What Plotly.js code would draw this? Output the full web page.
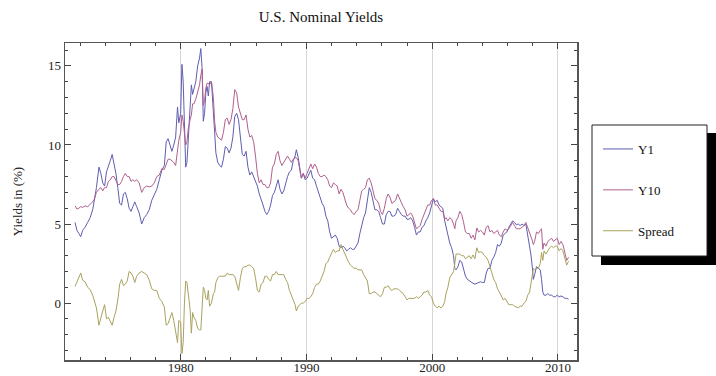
<!DOCTYPE html>
<html>
<head>
<meta charset="utf-8">
<script src="https://cdn.plot.ly/plotly-3.0.1.min.js"></script>
<style>html,body{margin:0;padding:0;background:#fff;}#chart{width:716px;height:376px;}</style>
</head>
<body>
<div id="chart"></div>
<script>
// decimal years
const years = [1971.6,1971.75,1971.9,1972.05,1972.2,1972.4,1972.6,1972.8,1973.0,1973.15,1973.3,1973.5,1973.65,1973.8,1973.95,1974.1,1974.25,1974.4,1974.55,1974.7,1974.85,1975.0,1975.15,1975.3,1975.45,1975.6,1975.75,1975.9,1976.05,1976.2,1976.35,1976.5,1976.7,1976.9,1977.1,1977.3,1977.5,1977.7,1977.9,1978.1,1978.3,1978.5,1978.7,1978.85,1979.0,1979.15,1979.3,1979.45,1979.6,1979.75,1979.85,1980.0,1980.1,1980.2,1980.3,1980.4,1980.5,1980.6,1980.75,1980.85,1980.95,1981.05,1981.2,1981.35,1981.5,1981.6,1981.7,1981.8,1981.9,1982.0,1982.1,1982.2,1982.3,1982.45,1982.6,1982.7,1982.8,1982.95,1983.1,1983.25,1983.4,1983.55,1983.7,1983.85,1984.0,1984.15,1984.3,1984.45,1984.6,1984.75,1984.9,1985.05,1985.2,1985.35,1985.5,1985.65,1985.8,1985.95,1986.1,1986.25,1986.4,1986.55,1986.7,1986.85,1987.0,1987.15,1987.3,1987.45,1987.6,1987.75,1987.9,1988.05,1988.2,1988.35,1988.5,1988.65,1988.8,1988.95,1989.1,1989.2,1989.35,1989.5,1989.6,1989.75,1989.9,1990.05,1990.2,1990.35,1990.5,1990.65,1990.8,1990.95,1991.1,1991.25,1991.4,1991.55,1991.7,1991.85,1992.0,1992.15,1992.3,1992.45,1992.6,1992.75,1992.9,1993.05,1993.2,1993.35,1993.5,1993.65,1993.8,1993.95,1994.1,1994.25,1994.4,1994.55,1994.7,1994.85,1995.0,1995.15,1995.3,1995.45,1995.6,1995.75,1995.9,1996.05,1996.2,1996.35,1996.5,1996.65,1996.8,1996.95,1997.1,1997.25,1997.4,1997.55,1997.7,1997.85,1998.0,1998.15,1998.3,1998.45,1998.6,1998.75,1998.9,1999.05,1999.2,1999.35,1999.5,1999.65,1999.8,1999.95,2000.1,2000.25,2000.4,2000.55,2000.7,2000.85,2001.0,2001.1,2001.25,2001.4,2001.55,2001.7,2001.8,2001.9,2002.05,2002.2,2002.35,2002.5,2002.65,2002.8,2002.95,2003.1,2003.25,2003.4,2003.55,2003.7,2003.85,2004.0,2004.15,2004.3,2004.45,2004.6,2004.75,2004.9,2005.05,2005.2,2005.35,2005.5,2005.65,2005.8,2005.95,2006.1,2006.25,2006.4,2006.55,2006.7,2006.85,2007.0,2007.15,2007.3,2007.45,2007.6,2007.75,2007.85,2007.95,2008.05,2008.15,2008.3,2008.45,2008.6,2008.7,2008.8,2008.9,2009.05,2009.2,2009.35,2009.5,2009.65,2009.8,2009.95,2010.1,2010.25,2010.4,2010.55,2010.7,2010.85];

const y1 = [5.1,4.6,4.4,4.2,4.6,4.8,5.1,5.4,5.9,6.5,7.3,8.6,8.2,7.6,7.4,8.3,8.6,9.0,9.4,8.9,8.2,7.3,6.3,6.2,6.9,7.0,6.6,6.0,5.8,6.1,6.4,6.1,5.7,5.0,5.4,5.6,5.9,6.5,6.8,7.2,7.8,8.4,8.7,10.2,10.4,10.0,9.6,10.0,10.5,12.4,11.4,12.0,15.1,14.0,10.5,8.6,8.9,10.4,12.0,13.8,13.2,13.5,14.0,15.0,15.5,16.1,14.9,11.5,12.0,13.3,13.7,13.1,14.0,14.0,12.4,10.8,9.5,8.9,8.7,8.6,9.1,9.9,9.8,9.5,9.8,10.5,11.8,12.0,11.6,10.4,9.4,9.3,9.6,8.6,8.1,8.3,8.0,7.7,7.4,6.9,6.6,6.2,5.8,5.6,5.8,6.2,6.8,7.0,7.4,7.8,7.2,6.9,7.1,7.6,8.0,8.3,8.4,9.0,9.3,9.7,9.2,8.4,7.9,8.2,7.8,7.9,8.2,8.4,7.9,7.8,7.4,7.0,6.6,6.3,6.1,5.5,5.2,4.5,4.1,4.2,4.3,4.1,3.6,3.5,3.6,3.5,3.3,3.4,3.5,3.4,3.4,3.6,3.8,4.4,5.0,5.4,5.7,6.4,7.3,7.0,6.4,5.9,5.9,5.8,5.4,5.0,5.0,5.6,5.8,5.8,5.5,5.5,5.6,6.0,5.8,5.6,5.5,5.5,5.3,5.3,5.4,5.2,4.8,4.3,4.5,4.5,4.8,4.9,5.2,5.4,5.7,6.1,6.6,6.4,6.5,6.2,6.1,6.0,5.2,4.8,4.2,3.8,3.5,3.0,2.2,2.1,2.3,2.7,2.6,2.1,1.7,1.5,1.4,1.3,1.25,1.2,1.25,1.3,1.35,1.3,1.3,1.9,2.2,2.2,2.7,2.9,3.2,3.7,3.6,3.8,4.3,4.4,4.5,4.8,5.0,5.2,5.1,4.95,5.0,4.9,5.0,4.9,5.0,4.3,3.8,3.1,2.4,1.5,1.8,2.3,2.2,2.1,1.5,0.7,0.5,0.5,0.6,0.5,0.5,0.4,0.4,0.5,0.4,0.45,0.4,0.3,0.3,0.25];

const y10 = [6.15,5.95,6.0,6.1,6.05,6.15,6.1,6.25,6.4,6.6,7.0,7.2,7.3,7.1,7.3,7.3,7.7,7.8,8.0,8.0,7.7,7.5,7.5,7.7,8.0,8.2,8.0,8.0,7.7,7.8,7.7,7.8,7.6,7.0,7.3,7.4,7.35,7.4,7.6,8.0,8.1,8.5,8.45,8.8,9.1,9.1,9.0,8.9,8.7,9.9,10.3,10.8,11.9,11.5,10.5,10.0,10.2,11.0,11.6,11.9,12.6,12.6,12.9,13.4,13.8,14.4,14.8,12.5,12.8,13.6,13.9,13.9,13.8,14.0,13.0,11.5,10.8,10.5,10.4,10.3,10.8,11.6,11.7,11.3,11.6,12.3,13.5,13.3,12.4,12.0,11.6,11.6,11.9,11.0,10.5,10.6,10.2,9.3,8.2,7.6,7.8,7.5,7.5,7.3,7.3,7.6,8.6,8.8,9.4,9.6,9.0,8.7,8.9,9.1,9.3,9.1,8.9,9.1,9.2,9.2,9.0,8.3,7.9,8.2,7.9,8.2,8.5,8.8,8.5,8.8,8.6,8.2,8.0,8.0,8.1,8.0,7.8,7.4,7.3,7.6,7.5,7.4,6.9,7.2,7.0,6.6,6.2,6.0,5.9,5.7,5.6,5.8,5.9,6.5,7.1,7.2,7.3,7.8,7.9,7.6,7.1,6.6,6.5,6.3,5.8,5.6,6.0,6.6,6.9,6.7,6.3,6.4,6.5,6.9,6.6,6.3,6.1,5.9,5.5,5.6,5.7,5.5,5.1,4.7,4.8,4.9,5.3,5.6,5.9,6.2,6.2,6.5,6.6,6.2,6.2,6.0,5.8,5.8,5.3,5.4,5.2,5.4,5.3,5.0,4.7,5.2,5.4,5.8,5.6,5.1,4.5,4.4,4.4,4.1,4.3,4.0,4.75,4.5,4.6,4.5,4.3,4.8,4.9,4.5,4.6,4.4,4.5,4.6,4.3,4.2,4.5,4.7,4.6,4.7,4.9,5.1,4.9,4.7,4.7,4.7,4.8,4.9,5.1,4.8,4.5,4.3,4.0,3.7,3.9,4.5,4.4,4.6,4.7,3.4,3.8,3.6,3.9,4.0,4.1,3.9,4.0,4.1,3.7,3.9,3.7,3.1,2.7,2.9];

const spread = [1.05,1.35,1.6,1.9,1.45,1.35,1.0,0.85,0.5,0.1,-0.3,-1.4,-0.9,-0.5,-0.1,-1.0,-0.9,-1.2,-1.4,-0.9,-0.5,0.2,1.2,1.5,1.1,1.2,1.4,2.0,1.9,1.7,1.3,1.7,1.9,2.0,1.9,1.8,1.45,0.9,0.8,0.8,0.3,0.1,-0.25,-1.4,-1.3,-0.9,-0.6,-1.1,-1.8,-2.5,-1.1,-1.2,-3.2,-2.5,0.0,1.4,1.3,0.6,-0.4,-1.9,-0.6,-0.9,-1.1,-1.6,-1.7,-1.7,-0.1,1.0,0.8,0.3,0.2,0.8,-0.2,0.0,0.6,0.7,1.3,1.6,1.7,1.7,1.7,1.7,1.9,1.8,1.8,1.8,1.7,1.3,0.8,1.6,2.2,2.3,2.3,2.4,2.4,2.3,2.2,1.6,0.8,0.7,1.2,1.3,1.7,1.7,1.5,1.4,1.8,1.8,2.0,1.8,1.8,1.8,1.8,1.5,1.3,0.8,0.5,0.1,-0.1,-0.5,-0.2,-0.1,0.0,0.0,0.1,0.3,0.3,0.4,0.6,1.0,1.2,1.2,1.4,1.7,2.0,2.5,2.6,2.9,3.2,3.4,3.2,3.3,3.3,3.7,3.4,3.1,2.9,2.6,2.4,2.3,2.2,2.2,2.1,2.1,2.1,1.8,1.6,1.4,0.6,0.6,0.7,0.7,0.6,0.5,0.4,0.6,1.0,1.0,1.1,0.9,0.8,0.9,0.9,0.9,0.8,0.7,0.6,0.4,0.2,0.3,0.3,0.3,0.3,0.4,0.3,0.4,0.5,0.7,0.7,0.8,0.5,0.4,0.0,-0.2,-0.3,-0.2,-0.3,-0.2,0.1,0.6,1.0,1.6,1.8,2.0,2.5,3.1,3.1,3.1,3.0,3.0,2.8,2.9,3.0,2.8,3.05,2.8,3.5,3.2,3.25,3.2,3.0,2.9,2.7,2.3,1.9,1.5,1.3,0.9,0.7,0.4,0.2,0.3,0.1,-0.1,-0.1,-0.1,-0.2,-0.25,-0.3,-0.2,-0.2,0.0,0.1,0.5,0.7,1.2,1.6,2.2,2.1,2.2,2.2,2.5,3.2,2.7,3.3,3.1,3.3,3.5,3.6,3.5,3.6,3.6,3.3,3.45,3.3,2.8,2.4,2.65];

const seriesNames = ['Y1', 'Y10', 'Spread'];
const seriesColors = ['#5e5eb2', '#b0608e', '#aaa25e'];
const xTickVals = [1980, 1990, 2000, 2010];
const yTickVals = [0, 5, 10, 15];

const serif = 'Liberation Serif, Times New Roman, serif';
const W = 716, H = 376;
const L = 65, R = 577, T = 43, B = 360;
const px = v => (v - L) / (R - L);
const py = v => (B - v) / (B - T);

const traces = [y1, y10, spread].map((ys, i) => ({
  x: years, y: ys, type: 'scatter', mode: 'lines', name: seriesNames[i],
  legendgroup: seriesNames[i],
  line: {color: seriesColors[i], width: 1}
}));

const layout = {
  width: W, height: H,
  margin: {l: L, r: W - R, t: T, b: H - B, pad: 0},
  paper_bgcolor: '#fff', plot_bgcolor: '#fff',
  font: {family: serif, size: 13, color: '#222'},
  title: {text: 'U.S. Nominal Yields', font: {family: serif, size: 15, color: '#111'},
          x: 0.5, xref: 'paper', y: 1 - 17 / H, yref: 'container', yanchor: 'middle'},
  showlegend: true,
  legend: {x: px(598), y: py(134), xanchor: 'left', yanchor: 'top',
           bgcolor: 'rgba(0,0,0,0)', borderwidth: 0, tracegroupgap: 21,
           font: {family: serif, size: 13, color: '#111'}},
  xaxis: {range: [1970.8, 2011.52], tickmode: 'array', tickvals: xTickVals,
          ticks: 'inside', ticklen: 6, tickcolor: '#444', tickwidth: 1,
          ticklabelstandoff: -5,
          showgrid: true, gridcolor: '#d6d6d6', gridwidth: 1,
          showline: true, linecolor: '#555', linewidth: 1.5, mirror: 'ticks',
          zeroline: false, tickfont: {family: serif, size: 13, color: '#222'},
          minor: {dtick: 2, tick0: 1970, ticks: 'inside', ticklen: 3, tickcolor: '#444', showgrid: false}},
  yaxis: {range: [-3.6, 16.45], tickmode: 'array', tickvals: yTickVals,
          ticks: 'inside', ticklen: 6, tickcolor: '#444', tickwidth: 1,
          showgrid: false, showline: true, linecolor: '#555', linewidth: 1.5, mirror: 'ticks',
          zeroline: false, tickfont: {family: serif, size: 13, color: '#222'},
          title: {text: 'Yields in (%)', font: {family: serif, size: 13, color: '#222'}, standoff: 22},
          minor: {dtick: 1, tick0: 0, ticks: 'inside', ticklen: 3, tickcolor: '#444', showgrid: false}},
  shapes: [
    {type: 'rect', xref: 'paper', yref: 'paper', x0: px(601), x1: px(716), y0: py(265), y1: py(133),
     fillcolor: '#000', line: {width: 0}, layer: 'above'},
    {type: 'rect', xref: 'paper', yref: 'paper', x0: px(592), x1: px(707), y0: py(256), y1: py(125),
     fillcolor: '#fff', line: {color: '#222', width: 1}, layer: 'above'}
  ]
};

Plotly.newPlot('chart', traces, layout, {displayModeBar: false, staticPlot: true});
</script>
</body>
</html>
